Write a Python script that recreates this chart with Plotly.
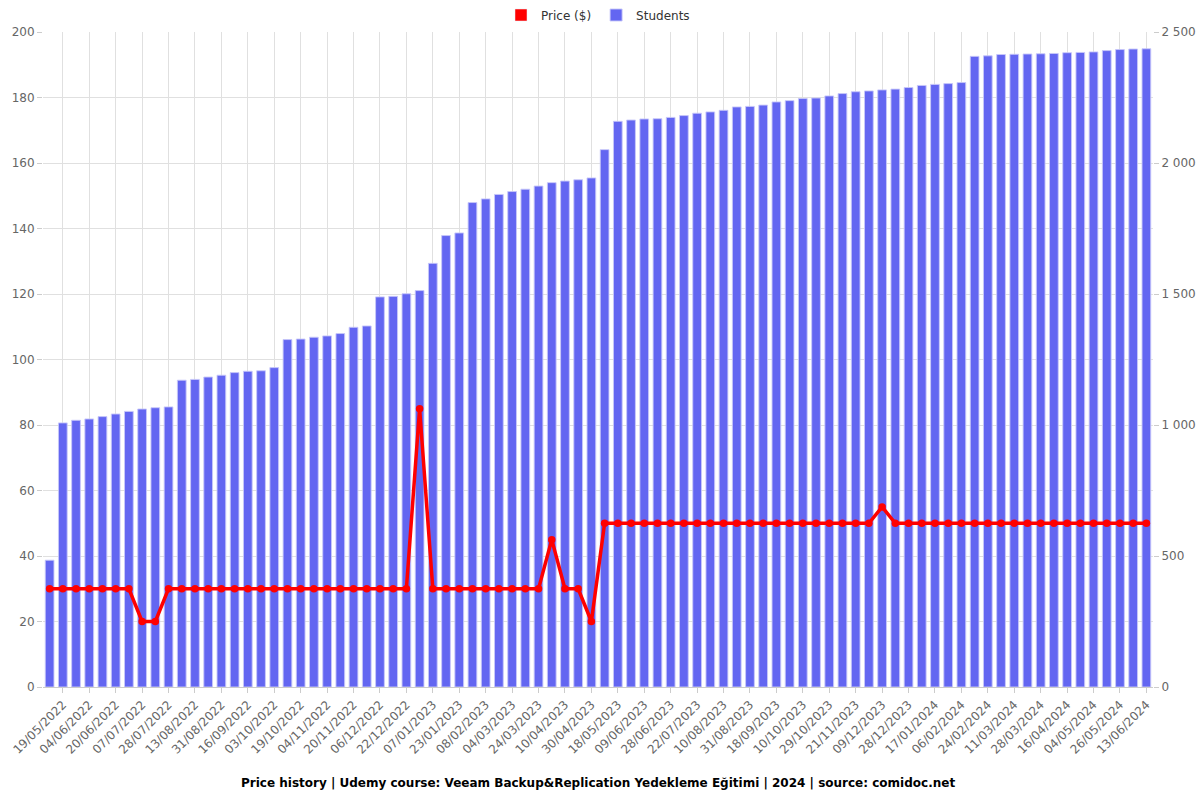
import plotly.graph_objects as go

tick_labels = ["19/05/2022", "04/06/2022", "20/06/2022", "07/07/2022", "28/07/2022", "13/08/2022",
               "31/08/2022", "16/09/2022", "03/10/2022", "19/10/2022", "04/11/2022", "20/11/2022",
               "06/12/2022", "22/12/2022", "07/01/2023", "23/01/2023", "08/02/2023", "04/03/2023",
               "24/03/2023", "10/04/2023", "30/04/2023", "18/05/2023", "09/06/2023", "28/06/2023",
               "22/07/2023", "10/08/2023", "31/08/2023", "18/09/2023", "10/10/2023", "29/10/2023",
               "21/11/2023", "09/12/2023", "28/12/2023", "17/01/2024", "06/02/2024", "24/02/2024",
               "11/03/2024", "28/03/2024", "16/04/2024", "04/05/2024", "26/05/2024", "13/06/2024"]

students = [484, 1008, 1018, 1023, 1032, 1042, 1052, 1061, 1066, 1069,
            1171, 1174, 1183, 1190, 1200, 1205, 1207, 1219, 1326, 1328,
            1335, 1340, 1349, 1373, 1378, 1489, 1491, 1501, 1513, 1617,
            1723, 1733, 1849, 1863, 1880, 1891, 1900, 1912, 1925, 1931,
            1936, 1943, 2051, 2159, 2164, 2168, 2169, 2174, 2181, 2190,
            2195, 2201, 2214, 2216, 2221, 2233, 2238, 2246, 2248, 2256,
            2265, 2272, 2275, 2279, 2282, 2288, 2296, 2300, 2303, 2307,
            2407, 2409, 2414, 2415, 2416, 2417, 2418, 2421, 2422, 2424,
            2429, 2433, 2435, 2436]

price = [30, 30, 30, 30, 30, 30, 30, 20, 20, 30,
         30, 30, 30, 30, 30, 30, 30, 30, 30, 30,
         30, 30, 30, 30, 30, 30, 30, 30, 85, 30,
         30, 30, 30, 30, 30, 30, 30, 30, 45, 30,
         30, 20, 50, 50, 50, 50, 50, 50, 50, 50,
         50, 50, 50, 50, 50, 50, 50, 50, 50, 50,
         50, 50, 50, 55, 50, 50, 50, 50, 50, 50,
         50, 50, 50, 50, 50, 50, 50, 50, 50, 50,
         50, 50, 50, 50]

idx = list(range(len(students)))
tick_idx = idx[1::2]

BAR = "#6366F1"
RED = "#FF0000"
GRID = "#E0E0E0"
TXT = "#666666"

W, H = 1200, 800
L, R, T, B = 43, W - 1153, 32, H - 687
PH = H - T - B

fig = go.Figure()

# legend-only proxy (rectangular legend symbol) for the price line
fig.add_trace(go.Bar(x=[None], y=[None], name="Price ($)", marker=dict(color=RED),
                     legendgroup="p", showlegend=True, yaxis="y2"))
fig.add_trace(go.Bar(x=idx, y=students, name="Students", yaxis="y",
                     marker=dict(color=BAR, line=dict(color="rgba(200,200,250,0.9)", width=1)),
                     width=0.66, hoverinfo="y"))
fig.add_trace(go.Scatter(x=idx, y=price, name="Price ($)", yaxis="y2", mode="lines+markers",
                         line=dict(color=RED, width=3.5), marker=dict(color=RED, size=7.5),
                         legendgroup="p", showlegend=False))

fig.update_layout(
    width=W, height=H,
    paper_bgcolor="white", plot_bgcolor="white",
    separators=". ",
    font=dict(family="DejaVu Sans", size=12, color=TXT),
    margin=dict(l=L, r=R, t=T, b=B, autoexpand=False),
    showlegend=True,
    legend=dict(orientation="h", x=0.5, xanchor="center", y=1 + (32 - 15) / PH,
                yanchor="middle", font=dict(size=12, color="#333333"), traceorder="normal",
                bgcolor="rgba(0,0,0,0)"),
    xaxis=dict(range=[-0.5, len(idx) - 0.5], tickmode="array", tickvals=tick_idx,
               ticktext=tick_labels, tickangle=-45, showgrid=True, gridcolor=GRID,
               showline=True, linecolor="#CCCCCC", ticks="outside", ticklen=5,
               tickcolor="#CCCCCC", zeroline=False, automargin=False,
               tickfont=dict(size=12, color=TXT)),
    yaxis=dict(side="right", range=[0, 2500], dtick=500, tickformat=",d",
               showgrid=True, gridcolor=GRID,
               minor=dict(dtick=250, showgrid=True, gridcolor=GRID),
               zeroline=False, ticks="outside", ticklen=5, tickcolor="#CCCCCC",
               automargin=False, tickfont=dict(size=12, color=TXT)),
    yaxis2=dict(side="left", overlaying="y", range=[0, 200], dtick=20, showgrid=False,
                zeroline=False, ticks="outside", ticklen=5, tickcolor="#CCCCCC",
                automargin=False, tickfont=dict(size=12, color=TXT)),
    annotations=[dict(text="<b>Price history | Udemy course: Veeam Backup&Replication Yedekleme Eğitimi | 2024 | source: comidoc.net</b>",
                      x=0.5, xref="paper", y=-(783 - 687) / PH, yref="paper",
                      yanchor="middle", showarrow=False,
                      font=dict(size=12, color="#000000"))],
)

fig.write_html("out.html", config={"displayModeBar": False},
               post_script="document.body.style.margin='0';document.body.style.overflow='hidden';")
